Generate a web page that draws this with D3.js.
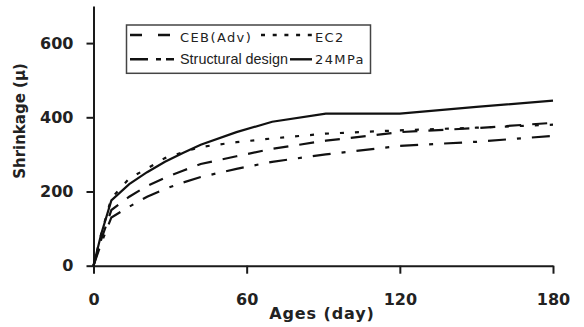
<!DOCTYPE html>
<html>
<head>
<meta charset="utf-8">
<script src="https://cdn.jsdelivr.net/npm/d3@7"></script>
<style>
  html, body { margin: 0; padding: 0; background: #fff; }
  svg { display: block; }
</style>
</head>
<body>
<svg id="chart" width="584" height="327"></svg>
<script>
// Drying shrinkage vs. age for four prediction approaches
const ages = [0, 3, 7, 14, 21, 28, 35, 42, 56, 70, 91, 120, 150, 180];
const cebAdv = [0, 70, 150, 186, 215, 237, 256, 274, 295, 315, 337, 360, 371, 385];
const ec2 = [0, 85, 182, 235, 262, 290, 306, 320, 333, 343, 356, 365, 372, 380];
const structuralDesign = [0, 60, 130, 159, 186, 207, 224, 239, 261, 280, 300, 323, 334, 350];
const mpa24 = [0, 85, 176, 220, 252, 280, 304, 326, 360, 388, 410, 410, 428, 445];

const xTicks = [0, 60, 120, 180];
const yTicks = [0, 200, 400, 600];

const seriesNames = ["CEB(Adv)", "EC2", "Structural design", "24MPa"];

const svg = d3.select("#chart");

const x = d3.scaleLinear().domain([0, 180]).range([93.5, 553]);
const y = d3.scaleLinear().domain([0, 700]).range([265.7, 6]);

const ink = "#1a1a1a";

// Axes
const xAxis = d3.axisBottom(x).tickValues(xTicks).tickSize(8).tickSizeOuter(0).tickPadding(20);
const yAxis = d3.axisLeft(y).tickValues(yTicks).tickSize(7).tickSizeOuter(0).tickPadding(13);

const gx = svg.append("g").attr("transform", `translate(0,${y(0)})`).call(xAxis);
const gy = svg.append("g").attr("transform", `translate(${x(0)},0)`).call(yAxis);

[gx, gy].forEach(g => {
  g.select(".domain").attr("stroke", ink).attr("stroke-width", 2);
  g.selectAll(".tick line").attr("stroke", ink).attr("stroke-width", 2);
  g.selectAll(".tick text")
    .attr("fill", "#222")
    .style("font-family", "'DejaVu Sans', sans-serif")
    .style("font-weight", "bold")
    .style("font-size", "16px");
});

// Axis titles
svg.append("text")
  .attr("x", 322).attr("y", 319)
  .attr("text-anchor", "middle")
  .style("font-family", "'DejaVu Sans', sans-serif")
  .style("font-weight", "bold")
  .style("font-size", "16px")
  .style("letter-spacing", "0.9px")
  .attr("fill", "#222")
  .text("Ages (day)");

svg.append("text")
  .attr("transform", "translate(25,121) rotate(-90)")
  .attr("text-anchor", "middle")
  .style("font-family", "'DejaVu Sans', sans-serif")
  .style("font-weight", "bold")
  .style("font-size", "15px")
  .attr("fill", "#222")
  .text("Shrinkage (\u00b5)");

// Curves
const styles = {
  "CEB(Adv)": "15,11",
  "EC2": "4,11",
  "Structural design": "18,11,4,11",
  "24MPa": null
};
const seriesValues = [cebAdv, ec2, structuralDesign, mpa24];

const line = d3.line()
  .x(d => x(d[0]))
  .y(d => y(d[1]))
  .curve(d3.curveLinear);

seriesNames.forEach((name, i) => {
  const pts = ages.map((a, j) => [a, seriesValues[i][j]]);
  svg.append("path")
    .datum(pts)
    .attr("fill", "none")
    .attr("stroke", "#111")
    .attr("stroke-width", 2.2)
    .attr("stroke-dasharray", styles[name])
    .attr("d", line);
});

// Legend
const lg = svg.append("g");
lg.append("rect")
  .attr("x", 126.5).attr("y", 25)
  .attr("width", 244).attr("height", 48.3)
  .attr("fill", "#fff")
  .attr("stroke", "#444")
  .attr("stroke-width", 1.5);

const legendText = (tx, ty, t, fam, size, spacing) =>
  lg.append("text")
    .attr("x", tx).attr("y", ty)
    .style("font-family", fam)
    .style("font-size", size)
    .style("letter-spacing", spacing)
    .attr("fill", "#222")
    .text(t);

const sample = (x1, x2, yy, dash) =>
  lg.append("line")
    .attr("x1", x1).attr("x2", x2).attr("y1", yy).attr("y2", yy)
    .attr("stroke", "#111").attr("stroke-width", 2.4)
    .attr("stroke-dasharray", dash);

sample(130, 175, 35, "12,16");
legendText(180, 41.5, seriesNames[0], "'DejaVu Sans', sans-serif", "13px", "1.4px");
sample(261, 312, 35, "4,7.7");
legendText(315, 41.5, seriesNames[1], "'DejaVu Sans', sans-serif", "13px", "1.4px");
sample(130, 174, 59.3, "18,8,5,5,8");
legendText(180, 63.5, seriesNames[2], "'Liberation Sans', Arial, sans-serif", "14.4px", "0px");
sample(290, 312, 59.3, null);
legendText(315, 63.5, seriesNames[3], "'DejaVu Sans', sans-serif", "13px", "1.4px");
</script>
</body>
</html>
